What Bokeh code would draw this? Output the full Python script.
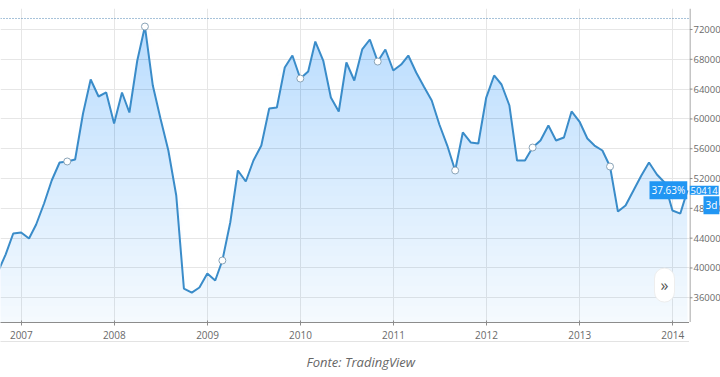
import numpy as np
import pandas as pd
from datetime import datetime
from bokeh.plotting import figure
from bokeh.layouts import row
from bokeh.models import (ColumnDataSource, FixedTicker, DatetimeTickFormatter, Span, Label,
                          Title, Range1d, DatetimeAxis)
from bokeh.embed import file_html
from bokeh.resources import INLINE

# ---- data (monthly closes) ----
months = pd.date_range("2006-09-30", periods=90, freq="ME")
values = [39400, 41800, 44620, 44760, 43950, 45830, 48650, 51740, 54150, 54290,
          54560, 60730, 65290, 63010, 63550, 59390, 63550, 60860, 67840, 72400,
          64480, 60060, 55760, 49720, 37240, 36700, 37380, 39260, 38320, 41000,
          46100, 53080, 51600, 54420, 56430, 61400, 61530, 66900, 68510, 65420,
          66360, 70390, 67840, 62870, 61000, 67570, 65160, 69320, 70660, 67700,
          69320, 66500, 67300, 68510, 66230, 64350, 62470, 59250, 56430, 53080,
          58180, 56840, 56700, 62870, 65830, 64620, 61800, 54420, 54420, 56160,
          57100, 59120, 57100, 57510, 61000, 59650, 57370, 56430, 55760, 53610,
          47570, 48380, 50400, 52410, 54150, 52540, 51470, 47710, 47300, 50414]
marker_idx = [9, 19, 29, 39, 49, 59, 69, 79]
year_ticks = [2007, 2008, 2009, 2010, 2011, 2012, 2013, 2014]
y_ticks = [36000, 40000, 44000, 48000, 52000, 56000, 60000, 64000, 68000, 72000]
y_labels = [str(v) for v in y_ticks]
high_level = 73480
last_change = "37.63%"
last_value = 50414
last_period = "3d"
caption = "Fonte: TradingView"

FONT = "Open Sans"
LINE = "#3a8cc9"
BLUE = "#2196f3"
AXIS = "#8c8c8c"
LABEL = "#6a6a6a"

src = ColumnDataSource(dict(x=months, y=values))
msrc = ColumnDataSource(dict(x=[months[i] for i in marker_idx], y=[values[i] for i in marker_idx]))
yr = Range1d(32680, 74820)

# ---- main chart ----
p = figure(width=689, frame_height=314, x_axis_type="datetime", y_axis_location=None,
           output_backend="svg", toolbar_location=None,
           x_range=(datetime(2006, 10, 11), datetime(2014, 3, 8)), y_range=yr,
           min_border_left=0, min_border_right=0, min_border_top=8, min_border_bottom=0)
p.outline_line_color = None

base = 32680
p.varea(x="x", y1=base, y2="y", source=src, fill_color=BLUE, fill_alpha=0.045)
arr = np.array(values, dtype=float)
for lvl in np.linspace(33500, 72500, 30):
    p.varea(x=months, y1=np.full(len(arr), lvl), y2=np.maximum(arr, lvl),
            fill_color=BLUE, fill_alpha=0.0075)

p.line(x="x", y="y", source=src, line_color=LINE, line_width=2)
p.scatter(x="x", y="y", source=msrc, size=7, fill_color="white", line_color="#8aa4b8", line_width=1)

p.add_layout(Span(location=high_level, dimension="width", line_color="#4f86b5",
                  line_dash="1 2", line_width=1))

xt = FixedTicker(ticks=[datetime(y, 1, 1).timestamp() * 1000 for y in year_ticks])
p.xaxis.ticker = xt
p.xgrid.ticker = xt
fmt = "%Y"
p.xaxis.formatter = DatetimeTickFormatter(years=fmt, months=fmt, days=fmt, hours=fmt, hourmin=fmt,
                                          minutes=fmt, minsec=fmt, seconds=fmt, milliseconds=fmt,
                                          microseconds=fmt)
yt = FixedTicker(ticks=y_ticks)
p.ygrid.ticker = yt
p.xaxis.axis_line_color = AXIS
p.xaxis.major_tick_line_color = AXIS
p.xaxis.minor_tick_line_color = None
p.xaxis.major_label_text_font = FONT
p.xaxis.major_label_text_color = LABEL
p.xaxis.major_label_text_font_size = "10px"
p.xaxis.major_tick_in = 2
p.xaxis.major_tick_out = 3
p.xaxis.major_label_standoff = 5
p.xgrid.grid_line_color = "#e6e6e6"
p.ygrid.grid_line_color = "#e6e6e6"

# light separator line under the time scale
sep = DatetimeAxis(ticker=FixedTicker(ticks=[]), axis_line_color="#e3e3e3",
                   major_tick_line_color=None, minor_tick_line_color=None,
                   major_tick_out=0, major_tick_in=0, major_label_standoff=0)
p.add_layout(sep, "below")

p.add_layout(Label(x=649, y=last_value, x_units="screen", y_units="data", text=last_change,
                   text_color="white", background_fill_color=BLUE, text_font=FONT,
                   text_font_size="10px", text_baseline="middle", padding=2))
p.add_layout(Label(x=664, y=37700, x_units="screen", y_units="data", text="»",
                   text_color="#555555", background_fill_color="white", text_font=FONT,
                   text_font_size="16px", text_baseline="middle", text_align="center",
                   padding=6, border_radius=13, border_line_color="#eeeeee"))

p.add_layout(Title(text=caption, align="left", offset=306, text_font_style="italic",
                   text_font_size="13px", text_color="#666666", text_font=FONT, standoff=18),
             "below")

# ---- price scale (right) ----
q = figure(width=31, frame_height=314, output_backend="svg", toolbar_location=None,
           x_range=Range1d(0, 31), y_range=yr,
           min_border_left=0, min_border_right=0, min_border_top=8, min_border_bottom=0)
q.axis.visible = False
q.grid.visible = False
q.outline_line_color = None
q.add_layout(Span(location=0.5, dimension="height", line_color=AXIS, line_width=1))
q.segment(x0=[0] * len(y_ticks), x1=[3] * len(y_ticks), y0=y_ticks, y1=y_ticks,
          line_color=AXIS, line_width=1)
q.text(x=[4] * len(y_ticks), y=y_ticks, text=y_labels, text_font_size="9.5px",
       text_color=LABEL, text_baseline="middle", text_font={"value": FONT})
q.add_layout(Label(x=0, y=last_value, x_units="screen", y_units="data", text=str(last_value),
                   text_color="white", background_fill_color=BLUE, text_font=FONT,
                   text_font_size="9.5px", text_baseline="middle", padding=1))
q.add_layout(Label(x=14, y=last_value, y_offset=-15, x_units="screen", y_units="data",
                   text=last_period, text_color="white", background_fill_color=BLUE,
                   text_font=FONT, text_font_size="10px", text_baseline="middle", padding=2))

layout = row(p, q, spacing=0)
layout.styles = {"margin-bottom": "-30px"}

open("out.html", "w").write(file_html(layout, INLINE))
